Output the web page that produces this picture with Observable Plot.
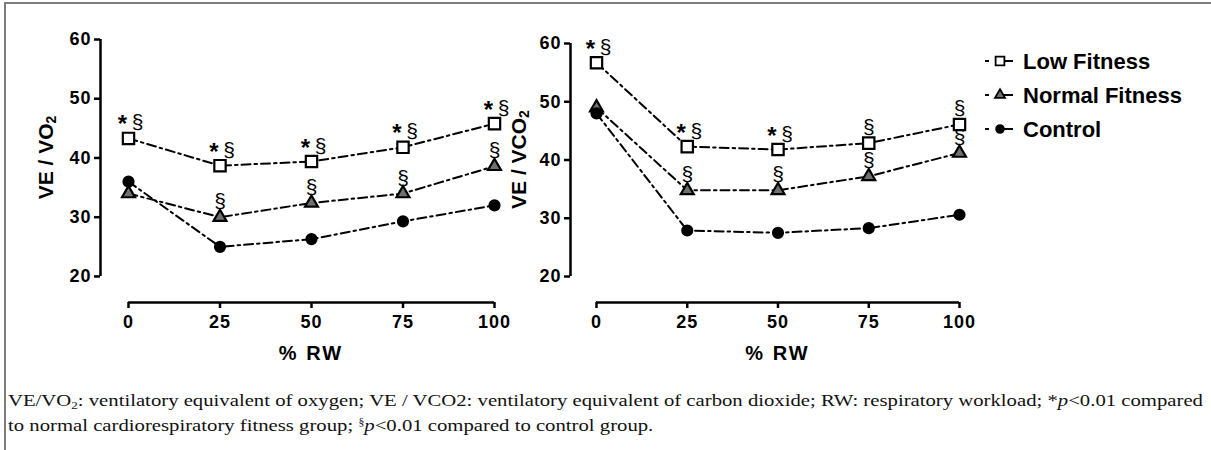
<!DOCTYPE html>
<html><head><meta charset="utf-8">
<script src="https://cdn.jsdelivr.net/npm/d3@7"></script>
<script src="https://cdn.jsdelivr.net/npm/@observablehq/plot@0.6"></script>
<style>
body{margin:0;background:#fff;}
#root{position:relative;width:1211px;height:450px;overflow:hidden;background:#fff;}
.bt{position:absolute;left:4px;top:2px;width:1207px;height:0;border-top:2px solid #7d7d7d;}
.bl{position:absolute;left:4px;top:2px;width:0;height:448px;border-left:2px solid #7d7d7d;}
#left{position:absolute;left:0;top:0}
#right{position:absolute;left:470px;top:0}
#legend{position:absolute;left:975px;top:40px;font-family:"Liberation Sans",Arial,sans-serif;}
#caption{position:absolute;left:8px;top:388px;font-family:"Liberation Serif",serif;font-size:17.5px;line-height:25px;color:#111;}
#caption div{white-space:nowrap;transform-origin:0 0;width:max-content;}
sub{font-size:11px;vertical-align:-3px;line-height:0}
sup{font-size:10px;vertical-align:6px;line-height:0}
</style></head><body>
<div id="root">
<div class="bt"></div><div class="bl"></div>
<div id="left"></div><div id="right"></div>
<div id="legend"></div>
<div id="caption">
<div id="cap1">VE/VO<sub>2</sub>: ventilatory equivalent of oxygen; VE / VCO2: ventilatory equivalent of carbon dioxide; RW: respiratory workload; *<i>p</i>&lt;0.01 compared</div>
<div id="cap2">to normal cardiorespiratory fitness group; <sup>§</sup><i>p</i>&lt;0.01 compared to control group.</div>
</div>
</div>
<script>
// ---- data ----
const xValues = [0, 25, 50, 75, 100];
const xTicks = [0, 25, 50, 75, 100];
const yTicks = [20, 30, 40, 50, 60];
const seriesNames = ["Low Fitness", "Normal Fitness", "Control"];

const leftLow = [43.3, 38.7, 39.4, 41.8, 45.8];
const leftNormal = [34.0, 30.0, 32.4, 34.0, 38.6];
const leftControl = [36.0, 25.0, 26.3, 29.3, 32.0];
const leftLowMarks = ["*§", "*§", "*§", "*§", "*§"];
const leftNormalMarks = ["", "§", "§", "§", "§"];

const rightLow = [56.7, 42.3, 41.8, 42.9, 46.1];
const rightNormal = [49.0, 34.8, 34.8, 37.2, 41.2];
const rightControl = [48.0, 27.9, 27.5, 28.3, 30.6];
const rightLowMarks = ["*§", "*§", "*§", "§", "§"];
const rightNormalMarks = ["", "§", "§", "§", "§"];

const xTitle = "% RW";

// ---- styles ----
const seriesSymbols = ["square", "triangle", "circle"];
const seriesFills = ["white", "#707070", "black"];
const seriesR = [6.4, 4.8, 5];
const dash = "9,4,2.5,4";
const FONT = "Liberation Sans, Arial, sans-serif";

function rowsFor(values) {
  return values.map((vals, s) => vals.map((v, i) => ({x: xValues[i], y: v, series: seriesNames[s]}))).flat();
}

function annotRows(vals, marks) {
  return xValues.map((x, i) => ({x, y: vals[i], star: marks[i].includes("*"), sect: marks[i].includes("§")}));
}

function panel(el, cfg) {
  const rows = rowsFor(cfg.values);
  const ann = annotRows(cfg.values[0], cfg.lowMarks).concat(annotRows(cfg.values[1], cfg.normalMarks));
  const marks = [
    Plot.ruleX([cfg.xMin], {y1: yTicks[0], y2: yTicks[yTicks.length - 1], strokeWidth: 2.5}),
    Plot.ruleY([cfg.yMin], {x1: xTicks[0], x2: xTicks[xTicks.length - 1], strokeWidth: 2.5}),
    Plot.axisY(yTicks, {tickSize: 6, tickPadding: 3, strokeWidth: 2.5, label: null, fontSize: 18}),
    Plot.axisX(xTicks, {tickSize: 6, tickPadding: 7, strokeWidth: 2.5, label: null, fontSize: 18})
  ];
  seriesNames.forEach((name, s) => {
    marks.push(Plot.line(rows.filter(d => d.series === name), {x: "x", y: "y", stroke: "black", strokeWidth: 2, strokeDasharray: dash}));
  });
  seriesNames.forEach((name, s) => {
    marks.push(Plot.dot(rows.filter(d => d.series === name), {x: "x", y: "y", symbol: () => seriesSymbols[s], fill: seriesFills[s], stroke: "black", strokeWidth: 2.2, r: seriesR[s]}));
  });
  marks.push(Plot.text(ann.filter(d => d.sect && d.star), {x: "x", y: "y", text: () => "§", dy: -9, dx: 9, lineAnchor: "bottom", fontSize: 21, fontWeight: "normal"}));
  marks.push(Plot.text(ann.filter(d => d.sect && !d.star), {x: "x", y: "y", text: () => "§", dy: -9, dx: 0, lineAnchor: "bottom", fontSize: 21, fontWeight: "normal"}));
  marks.push(Plot.text(ann.filter(d => d.star), {x: "x", y: "y", text: () => "*", dy: -6, dx: -6, lineAnchor: "bottom", fontSize: 24, fontWeight: "bold"}));

  const chart = Plot.plot({
    width: cfg.width, height: 370,
    marginLeft: 100, marginRight: cfg.marginRight, marginTop: cfg.marginTop, marginBottom: 68,
    x: {domain: [cfg.xMin, 100]},
    y: {domain: [cfg.yMin, 60]},
    symbol: {type: "identity"},
    style: {fontFamily: FONT, fontSize: "18px", fontWeight: "bold", color: "black", background: "transparent", overflow: "visible"},
    marks
  });
  el.appendChild(chart);
  const svg = d3.select(chart);
  svg.selectAll('g[aria-label*="tick label"]').style("font-size", "18px").style("font-weight", "bold").style("letter-spacing", "1px");
  const xs = chart.scale("x"), ys = chart.scale("y");
  svg.append("text").attr("x", xs.apply(50)).attr("y", 355).attr("text-anchor", "middle")
    .attr("dominant-baseline", "middle").style("font-size", "20px").style("font-weight", "bold")
    .style("letter-spacing", "2px").text(xTitle);
  const ymid = (ys.apply(60) + ys.apply(20)) / 2 + cfg.yTitleShift;
  const t = svg.append("text").attr("transform", `translate(${cfg.yTitleX},${ymid}) rotate(-90)`)
    .attr("text-anchor", "middle").attr("dominant-baseline", "middle")
    .style("font-size", "21px").style("font-weight", "bold");
  t.append("tspan").text(cfg.yTitle);
  t.append("tspan").attr("dy", 5).style("font-size", "14px").text("2");
}

panel(document.getElementById("left"), {
  values: [leftLow, leftNormal, leftControl], lowMarks: leftLowMarks, normalMarks: leftNormalMarks,
  xMin: -7.65, yMin: 15.6, width: 520, marginRight: 26, marginTop: 39,
  yTitle: "VE / VO", yTitleX: 47, yTitleShift: 0
});
panel(document.getElementById("right"), {
  values: [rightLow, rightNormal, rightControl], lowMarks: rightLowMarks, normalMarks: rightNormalMarks,
  xMin: -7.16, yMin: 15.54, width: 515, marginRight: 26, marginTop: 43,
  yTitle: "VE / VCO", yTitleX: 50, yTitleShift: 0
});

// legend
const leg = d3.select("#legend").append("svg").attr("width", 236).attr("height", 120)
  .style("font-family", FONT);
const legY = [21, 55, 89];
seriesNames.forEach((name, s) => {
  const g = leg.append("g").attr("transform", `translate(0,${legY[s]})`);
  g.append("line").attr("x1", 10).attr("x2", 38).attr("stroke", "black").attr("stroke-width", 2).attr("stroke-dasharray", "4,12,12");
  const sym = {square: d3.symbolSquare, triangle: d3.symbolTriangle, circle: d3.symbolCircle}[seriesSymbols[s]];
  g.append("path").attr("transform", "translate(25,0)").attr("d", d3.symbol(sym, Math.PI * seriesR[s] * seriesR[s] * 0.6)())
    .attr("fill", seriesFills[s]).attr("stroke", "black").attr("stroke-width", 1.8);
  g.append("text").attr("x", 48).attr("dy", "0.35em").style("font-size", "22px").style("font-weight", "bold").text(name);
});

// caption fit
const c1 = document.getElementById("cap1"), c2 = document.getElementById("cap2");
const k = 1195 / c1.getBoundingClientRect().width;
c1.style.transform = `scaleX(${k})`;
c2.style.transform = `scaleX(${k})`;
</script>
</body></html>
